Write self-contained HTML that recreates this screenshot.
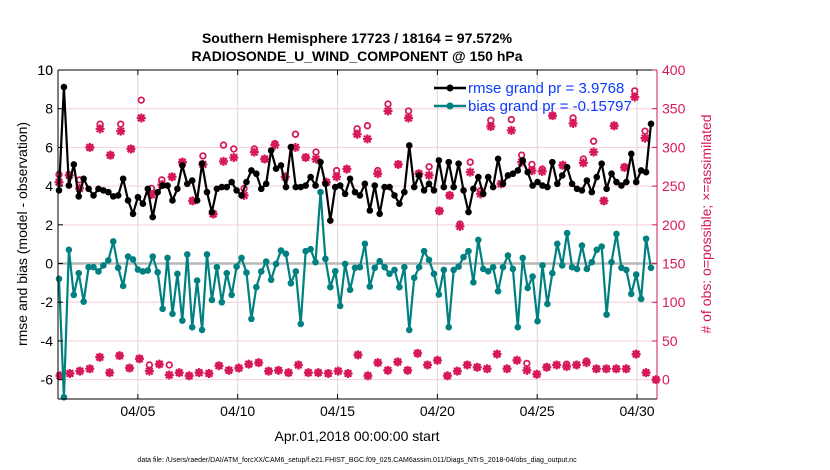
<!DOCTYPE html>
<html><head><meta charset="utf-8"><style>
html,body{margin:0;padding:0;background:#fff;}
svg{display:block;font-family:"Liberation Sans",Arial,sans-serif;}
</style></head><body>
<svg id="chart" width="830" height="470" viewBox="0 0 830 470">
<text x="357" y="43" text-anchor="middle" font-size="14" font-weight="bold">Southern Hemisphere 17723 / 18164 = 97.572%</text>
<text x="357" y="61" text-anchor="middle" font-size="14" font-weight="bold">RADIOSONDE_U_WIND_COMPONENT @ 150 hPa</text>
<text transform="translate(27,234) rotate(-90)" text-anchor="middle" font-size="14">rmse and bias (model - observation)</text>
<text transform="translate(711,224) rotate(-90)" text-anchor="middle" font-size="14" fill="#d6195b"># of obs: o=possible; ×=assimilated</text>
<text x="357" y="441" text-anchor="middle" font-size="14">Apr.01,2018 00:00:00 start</text>
<text x="357" y="462" text-anchor="middle" font-size="7">data file: /Users/raeder/DAI/ATM_forcXX/CAM6_setup/f.e21.FHIST_BGC.f09_025.CAM6assim.011/Diags_NTrS_2018-04/obs_diag_output.nc</text>
<g id="grid"></g><g id="marks"></g><g id="axes"></g>
<g>
<line x1="434" y1="88" x2="466" y2="88" stroke="#000" stroke-width="2.5"/>
<circle cx="450" cy="88" r="3.5" fill="#000"/>
<text x="468" y="93" font-size="15" fill="#0a3cff">rmse grand pr = 3.9768</text>
<line x1="434" y1="106" x2="466" y2="106" stroke="#008080" stroke-width="2.5"/>
<circle cx="450" cy="106" r="3.5" fill="#008080"/>
<text x="468" y="111" font-size="15" fill="#0a3cff">bias grand pr = -0.15797</text>
</g>
</svg>
<script>
const rmse=[3.78,9.12,4.03,5.12,3.47,4.38,3.86,3.52,3.86,3.78,3.69,3.47,3.52,4.38,3.26,2.57,3.43,3.09,3.86,2.4,3.69,4.03,4.03,3.26,3.86,5.07,4.12,4.29,3.26,5.16,3.69,
2.66,3.86,3.95,3.95,4.21,3.78,3.52,4.21,4.81,4.64,3.86,4.12,5.84,4.9,5.07,3.95,6.02,3.95,3.95,4.03,4.47,4.03,5.24,4.12,2.22,3.95,4.03,3.6,4.38,3.69,
3.52,4.12,2.74,4.03,2.57,3.95,3.95,3.52,3.09,3.69,6.1,3.95,4.55,3.78,4.12,3.78,5.33,3.95,5.24,3.95,5.16,3.78,2.66,3.86,4.47,3.6,4.47,3.95,5.41,4.12,
4.55,4.64,4.81,5.33,4.72,4.03,4.21,4.03,3.95,5.24,4.12,4.55,4.98,4.12,3.86,3.78,4.29,3.69,4.47,5.16,3.86,4.64,4.21,4.03,4.21,5.67,4.21,4.81,4.72,7.22];
const bias=[-0.79,-6.91,0.71,-1.62,-0.5,-1.97,-0.19,-0.19,-0.41,-0.1,0.16,1.14,-0.22,-1.16,0.36,0.21,-0.31,-0.41,-0.36,0.36,-0.45,-2.34,0.29,-2.6,-0.53,-2.95,0.47,-3.29,-0.88,-3.43,0.47,
-1.88,-0.19,-2.0,-0.5,-1.62,-0.16,0.29,-0.47,-2.86,-1.22,-0.41,0.1,-0.84,-0.02,0.67,0.5,-1.02,-0.41,-3.12,0.64,0.74,0.07,3.69,0.24,-1.22,-0.4,-2.19,-0.02,-1.36,-0.22,
-0.19,1.02,-1.19,-0.22,0.12,-0.19,-0.53,-0.33,-1.22,-0.19,-3.43,-0.74,-0.19,0.64,0.19,-0.53,-1.6,-0.33,-3.29,-0.33,-0.16,0.33,0.64,-0.97,1.22,-0.28,-0.4,-0.19,-1.43,-0.19,
0.41,-0.28,-3.29,0.29,-1.26,-0.67,-2.98,-0.1,-2.09,-0.5,1.02,-0.1,1.57,-0.19,-0.28,0.93,-0.28,0.07,0.71,0.88,-2.64,0.07,1.53,-0.22,-0.33,-1.57,-0.57,-1.83,1.28,-0.22];
const topAssim=[255,264,247,300,324,290,321,298,338,239,252,262,281,231,278,214,
282,287,238,294,285,303,262,300,287,285,255,262,272,317,
311,266,347,278,338,266,264,218,238,198,268,240,327,253,
322,281,270,269,341,277,331,280,294,231,328,274,365,312];
const topPossible=[265,264,258,300,330,290,330,298,361,247,258,262,281,231,289,214,
303,298,247,298,285,305,262,317,287,294,255,270,272,324,
328,270,356,278,347,266,275,218,238,201,281,244,335,253,
336,290,278,272,341,277,338,285,308,231,328,275,373,321];
const botAssim=[5,8,11,14,29,9,31,15,27,11,20,6,9,5,9,
8,18,12,15,20,22,11,12,9,19,9,9,8,11,8,
32,5,22,12,23,12,34,19,25,5,11,19,16,14,33,
14,25,12,7,16,19,17,19,22,14,14,14,14,33,9,0];
const botPossible=[5,8,11,14,29,9,31,15,27,19,20,19,9,5,9,
8,18,12,15,20,22,11,12,9,19,9,9,8,11,8,
32,5,22,12,23,12,34,19,25,5,11,19,16,14,33,
14,25,21,7,16,19,20,19,24,14,14,14,14,33,9,0];
const leftTicks=[-6,-4,-2,0,2,4,6,8,10];
const rightTicks=[0,50,100,150,200,250,300,350,400];
const xTickDays=[4,9,14,19,24,29];
const xTickLabels=["04/05","04/10","04/15","04/20","04/25","04/30"];

const L=58,R=657,T=70,B=399;
const xS=d=>L+(d/30)*(R-L);
const yL=v=>T+(10-v)/17*(B-T);
const yR=c=>yL(-6+c*(16/400)*0.5*2/1*0.5*2/2*2/2)||0;
function yC(c){return yL(c/25-6);}
const NS="http://www.w3.org/2000/svg";
function mk(p,t,a){const e=document.createElementNS(NS,t);for(const k in a)e.setAttribute(k,a[k]);p.appendChild(e);return e;}
const grid=document.getElementById('grid'),marks=document.getElementById('marks'),axes=document.getElementById('axes');

leftTicks.forEach(v=>{const g=mk(grid,'line',{x1:L,x2:R,y1:yL(v),y2:yL(v),stroke:'#f6cddd','stroke-width':1});

});
xTickDays.forEach(d=>{const g=mk(grid,'line',{x1:xS(d),x2:xS(d),y1:T,y2:B,stroke:'#d8d8d8','stroke-width':1});

});
const z=mk(grid,'line',{x1:L,x2:R,y1:yL(0),y2:yL(0),stroke:'#b8b8b8','stroke-width':2.5});



const n=rmse.length;
const dayOf=i=>0.05+i*(29.65/(n-1));
function series(vals,color,name){
  const pts=vals.map((v,i)=>xS(dayOf(i)).toFixed(1)+','+yL(v).toFixed(1)).join(' ');
  const pl=mk(marks,'polyline',{points:pts,fill:'none',stroke:color,'stroke-width':2.2,'stroke-linejoin':'round'});
  
  
  vals.forEach((v,i)=>{const c=mk(marks,'circle',{cx:xS(dayOf(i)),cy:yL(v),r:3.3,fill:color});
    
    });
}
function star(x,y){
  const g=mk(marks,'g',{stroke:'#d6195b','stroke-width':2.2,fill:'#d6195b'});
  
  
  mk(g,'path',{d:`M${x-4.5},${y}H${x+4.5}M${x},${y-4.5}V${y+4.5}M${x-3.3},${y-3.3}L${x+3.3},${y+3.3}M${x-3.3},${y+3.3}L${x+3.3},${y-3.3}`});
  mk(g,'circle',{cx:x,cy:y,r:2.2,stroke:'none'});
}
function circ(x,y){const c=mk(marks,'circle',{cx:x,cy:y,r:2.8,fill:'#fff',stroke:'#d6195b','stroke-width':1.8});
  
  }
const topDay=k=>0.05+k*(29.35/(topAssim.length-1));
const botDay=k=>0.1+k*(29.85/(botAssim.length-1));
topPossible.forEach((c,k)=>circ(xS(topDay(k)),yC(c)));
botPossible.forEach((c,k)=>circ(xS(botDay(k)),yC(c)));
topAssim.forEach((c,k)=>star(xS(topDay(k)),yC(c)));
botAssim.forEach((c,k)=>star(xS(botDay(k)),yC(c)));
series(rmse,'#000','rmse');
series(bias,'#008080','bias');

// axes
mk(axes,'line',{x1:L,x2:R,y1:T,y2:T,stroke:'#000','stroke-width':1});
mk(axes,'line',{x1:L,x2:R,y1:B,y2:B,stroke:'#000','stroke-width':1});
mk(axes,'line',{x1:L,x2:L,y1:T,y2:B,stroke:'#000','stroke-width':1});
mk(axes,'line',{x1:R,x2:R,y1:T,y2:B,stroke:'#d6195b','stroke-width':1});
leftTicks.concat([10]).forEach(v=>{
  mk(axes,'line',{x1:L,x2:L+5,y1:yL(v),y2:yL(v),stroke:'#000'});
  const t=mk(axes,'text',{x:L-5,y:yL(v)+5,'text-anchor':'end','font-size':14});
  t.textContent=v;
  
  
});
rightTicks.forEach(c=>{
  mk(axes,'line',{x1:R-5,x2:R,y1:yC(c),y2:yC(c),stroke:'#d6195b'});
  const t=mk(axes,'text',{x:R+5,y:yC(c)+5,'font-size':14,fill:'#d6195b'});
  t.textContent=c;
  
  
});
xTickDays.forEach((d,i)=>{
  mk(axes,'line',{x1:xS(d),x2:xS(d),y1:B-5,y2:B,stroke:'#000'});
  mk(axes,'line',{x1:xS(d),x2:xS(d),y1:T,y2:T+5,stroke:'#000'});
  const t=mk(axes,'text',{x:xS(d),y:B+17,'text-anchor':'middle','font-size':14});
  t.textContent=xTickLabels[i];
  
  
});
</script>
</body></html>
